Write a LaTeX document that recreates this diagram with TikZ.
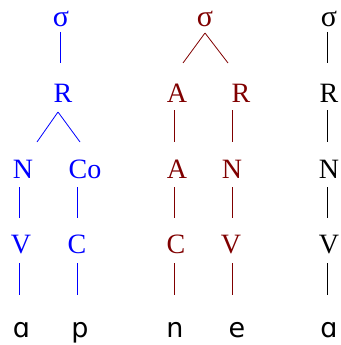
\documentclass[tikz,border=0pt]{standalone}
\usepackage{fontspec}
\usetikzlibrary{calc}
\newfontfamily\labfont{Liberation Serif}
\newfontfamily\ipafont{DejaVu Sans}
\definecolor{tblue}{RGB}{0,0,255}
\definecolor{tred}{RGB}{128,0,0}
\newcommand\sig{{\fontsize{30}{30}\selectfont σ}}
\begin{document}
\begin{tikzpicture}[x=1pt,y=1pt,
  lab/.style={font=\labfont\fontsize{28}{28}\selectfont, anchor=base, inner sep=0pt},
  sg/.style={text height=16pt, text depth=0pt},
  seg/.style={anchor=base, inner sep=0pt, font=\ipafont\fontsize{27}{27}\selectfont, text=black},
  ln/.style={line width=0.8pt}]
\useasboundingbox (0,0) rectangle (340,-345);
% column 1 (blue)
\begin{scope}[every node/.style={lab, text=tblue}, every path/.style={ln, draw=tblue}]
\node[sg] (s1) at (61,-27) {\sig};
\node (r1) at (63,-102) {R};
\node (n1) at (23,-178) {N};
\node (co1) at (85,-178) {Co};
\node (v1) at (21,-253) {V};
\node (c1) at (77,-253) {C};
\draw ($(s1.base)+(-1,-5)$) -- ($(r1.base)+(-3,39)$);
\draw ($(r1.base)+(-5,-10)$) -- ($(n1.base)+(14,36)$);
\draw ($(r1.base)+(-5,-10)$) -- ($(co1.base)+(-5,36)$);
\draw ($(n1.base)+(-4,-9)$) -- ($(v1.base)+(-2,35)$);
\draw ($(co1.base)+(-8,-9)$) -- ($(c1.base)+(0,35)$);
\end{scope}
\node[seg] (a1) at (21.5,-337) {ɑ};
\node[seg] (p1) at (80,-337) {p};
\draw[ln, tblue] ($(v1.base)+(-2,-10)$) -- ($(a1.base)+(-2.5,42)$);
\draw[ln, tblue] ($(c1.base)+(0,-10)$) -- ($(p1.base)+(-3,42)$);
% column 2 (dark red)
\begin{scope}[every node/.style={lab, text=tred}, every path/.style={ln, draw=tred}]
\node[sg] (s2) at (205,-27) {\sig};
\node (a2) at (177,-102) {A};
\node (r2) at (241,-102) {R};
\node (a3) at (177,-178) {A};
\node (n2) at (232,-178) {N};
\node (c2) at (176,-253) {C};
\node (v2) at (231,-253) {V};
\draw ($(s2.base)+(0,-6)$) -- ($(a2.base)+(6,39)$);
\draw ($(s2.base)+(0,-6)$) -- ($(r2.base)+(-13,39)$);
\draw ($(a2.base)+(-3,-8)$) -- ($(a3.base)+(-3,36)$);
\draw ($(r2.base)+(-9,-8)$) -- ($(n2.base)+(0,36)$);
\draw ($(a3.base)+(-3,-9)$) -- ($(c2.base)+(-2,35)$);
\draw ($(n2.base)+(0,-9)$) -- ($(v2.base)+(1,35)$);
\end{scope}
\node[seg] (nn) at (175,-337) {n};
\node[seg] (ee) at (237,-337) {e};
\draw[ln, tred] ($(c2.base)+(-2,-10)$) -- ($(nn.base)+(-1,42)$);
\draw[ln, tred] ($(v2.base)+(1,-10)$) -- ($(ee.base)+(-5,42)$);
% column 3 (black)
\begin{scope}[every node/.style={lab, text=black}, every path/.style={ln, draw=black}]
\node[sg] (s3) at (329,-27) {\sig};
\node (r3) at (329,-102) {R};
\node (n3) at (329,-178) {N};
\node (v3) at (329,-253) {V};
\draw ($(s3.base)+(-2,-5)$) -- ($(r3.base)+(-2,39)$);
\draw ($(r3.base)+(-2,-8)$) -- ($(n3.base)+(-2,36)$);
\draw ($(n3.base)+(-2,-9)$) -- ($(v3.base)+(-2,35)$);
\end{scope}
\node[seg] (a4) at (329,-337) {ɑ};
\draw[ln, black] ($(v3.base)+(-2,-10)$) -- ($(a4.base)+(-2,42)$);
\end{tikzpicture}
\end{document}
